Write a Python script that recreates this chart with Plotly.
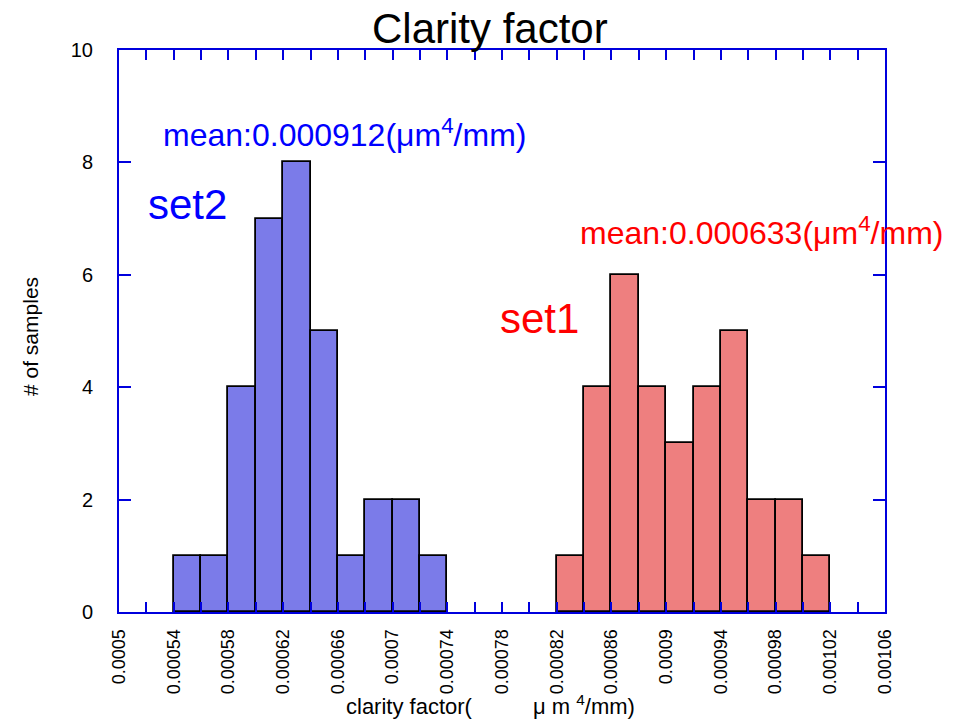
import plotly.graph_objects as go

bin_width = 0.00002
set2_bin_starts = [0.00054, 0.00056, 0.00058, 0.00060, 0.00062, 0.00064, 0.00066, 0.00068, 0.00070, 0.00072]
set2_counts = [1, 1, 4, 7, 8, 5, 1, 2, 2, 1]
set1_bin_starts = [0.00082, 0.00084, 0.00086, 0.00088, 0.00090, 0.00092, 0.00094, 0.00096, 0.00098, 0.00100]
set1_counts = [1, 4, 6, 4, 3, 4, 5, 2, 2, 1]
x_tick_vals = [0.0005, 0.00054, 0.00058, 0.00062, 0.00066, 0.0007, 0.00074, 0.00078,
               0.00082, 0.00086, 0.0009, 0.00094, 0.00098, 0.00102, 0.00106]
x_tick_text = ["0.0005", "0.00054", "0.00058", "0.00062", "0.00066", "0.0007", "0.00074", "0.00078",
               "0.00082", "0.00086", "0.0009", "0.00094", "0.00098", "0.00102", "0.00106"]
y_tick_vals = [0, 2, 4, 6, 8, 10]

FONT = "Liberation Sans, Arial, sans-serif"
AXIS_BLUE = "#0000dd"
W, H = 960, 719
ML, MR, MT, MB = 119, 75, 50, 107

fig = go.Figure()
fig.add_trace(go.Bar(
    x=[s + bin_width / 2 for s in set2_bin_starts], y=set2_counts, width=bin_width,
    marker=dict(color="#7b7be9", line=dict(color="black", width=1.8)), name="set2"))
fig.add_trace(go.Bar(
    x=[s + bin_width / 2 for s in set1_bin_starts], y=set1_counts, width=bin_width,
    marker=dict(color="#ee7f7f", line=dict(color="black", width=1.8)), name="set1"))

fig.update_layout(
    width=W, height=H,
    margin=dict(l=ML, r=MR, t=MT, b=MB),
    paper_bgcolor="white", plot_bgcolor="white",
    showlegend=False,
    font=dict(family=FONT, color="black"),
    bargap=0,
)
fig.update_xaxes(
    range=[0.0005, 0.00106],
    tickmode="array", tickvals=x_tick_vals, ticktext=x_tick_text, tickangle=-90,
    ticks="inside", ticklen=10, tickwidth=1.5, tickcolor=AXIS_BLUE,
    minor=dict(dtick=0.00002, tick0=0.0005, ticks="inside", ticklen=10, tickwidth=1.5, tickcolor=AXIS_BLUE),
    showline=True, linecolor=AXIS_BLUE, linewidth=2, mirror="ticks",
    showgrid=False, zeroline=False,
    tickfont=dict(size=18, family=FONT, color="black"),
    ticklabelstandoff=8,
)
fig.update_yaxes(
    range=[0, 10],
    tickmode="array", tickvals=y_tick_vals,
    ticks="inside", ticklen=12, tickwidth=1.5, tickcolor=AXIS_BLUE,
    showline=True, linecolor=AXIS_BLUE, linewidth=2, mirror="ticks",
    showgrid=False, zeroline=False,
    tickfont=dict(size=20, family=FONT, color="black"),
    ticklabelstandoff=20,
)

annotations = [
    dict(text="Clarity factor", x=490, y=28, font=dict(size=42, color="black"), angle=0),
    dict(text="clarity factor(&nbsp;&nbsp;&nbsp;&nbsp;&nbsp;&nbsp;&nbsp;&nbsp;&nbsp; μ m <sup>4</sup>/mm)",
         x=490, y=705, font=dict(size=22, color="black"), angle=0),
    dict(text="# of samples", x=30, y=337, font=dict(size=21, color="black"), angle=-90),
    dict(text="mean:0.000912(μm<sup>4</sup>/mm)", x=344, y=133, font=dict(size=32, color="#0000ff"), angle=0),
    dict(text="set2", x=187, y=205, font=dict(size=42, color="#0000ff"), angle=0),
    dict(text="set1", x=539, y=318, font=dict(size=42, color="#ff0000"), angle=0),
    dict(text="mean:0.000633(μm<sup>4</sup>/mm)", x=761, y=231, font=dict(size=32, color="#ff0000"), angle=0),
]
for a in annotations:
    fig.add_annotation(
        text=a["text"],
        x=(a["x"] - ML) / (W - ML - MR), y=1 - (a["y"] - MT) / (H - MT - MB),
        xref="paper", yref="paper",
        xanchor="center", yanchor="middle", showarrow=False, textangle=a["angle"],
        font=dict(family=FONT, **a["font"]),
    )

fig.write_html("out.html")
